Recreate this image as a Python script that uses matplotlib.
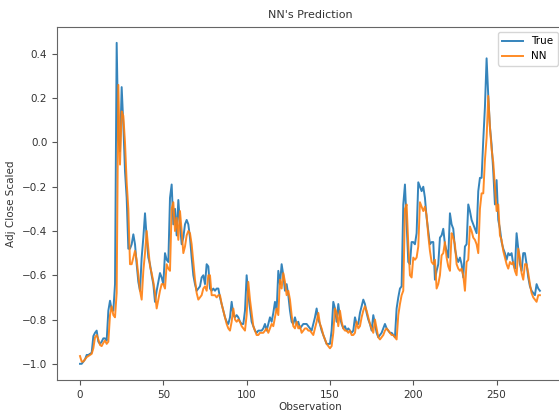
import matplotlib.pyplot as plt

# values
true_vals = [
    -1.00, -1.00, -0.99, -0.98, -0.96, -0.96, -0.955, -0.95, -0.875, -0.86,
    -0.85, -0.90, -0.91, -0.90, -0.885, -0.885, -0.895, -0.76, -0.715, -0.755,
    -0.76, -0.64, 0.45, 0.01, -0.04, 0.25, 0.08, -0.13, -0.25, -0.48,
    -0.48, -0.46, -0.415, -0.46, -0.55, -0.63, -0.67, -0.52, -0.43, -0.32,
    -0.43, -0.52, -0.55, -0.60, -0.64, -0.72, -0.67, -0.63, -0.59, -0.61,
    -0.64, -0.50, -0.53, -0.54, -0.25, -0.19, -0.37, -0.30, -0.42, -0.26,
    -0.37, -0.46, -0.43, -0.37, -0.35, -0.37, -0.43, -0.52, -0.60, -0.64,
    -0.67, -0.66, -0.65, -0.61, -0.60, -0.64, -0.55, -0.56, -0.66, -0.67,
    -0.66, -0.67, -0.66, -0.66, -0.70, -0.73, -0.76, -0.79, -0.81, -0.82,
    -0.79, -0.72, -0.78, -0.79, -0.78, -0.79, -0.81, -0.82, -0.82, -0.76,
    -0.60, -0.69, -0.75, -0.81, -0.83, -0.85, -0.86, -0.85, -0.85, -0.85,
    -0.84, -0.82, -0.85, -0.82, -0.79, -0.81, -0.77, -0.72, -0.76, -0.58,
    -0.64, -0.55, -0.60, -0.67, -0.64, -0.69, -0.76, -0.81, -0.82, -0.79,
    -0.82, -0.81, -0.84, -0.83, -0.82, -0.82, -0.82, -0.83, -0.84, -0.85,
    -0.82, -0.79, -0.75, -0.80, -0.82, -0.85, -0.87, -0.89, -0.91, -0.91,
    -0.91, -0.85, -0.72, -0.75, -0.81, -0.73, -0.79, -0.82, -0.84, -0.83,
    -0.85, -0.84, -0.85, -0.86, -0.85, -0.79, -0.82, -0.82, -0.77, -0.74,
    -0.71, -0.73, -0.77, -0.80, -0.82, -0.85, -0.78, -0.82, -0.86, -0.88,
    -0.87, -0.86, -0.84, -0.82, -0.84, -0.85, -0.86, -0.86, -0.87, -0.88,
    -0.75, -0.70, -0.66, -0.65, -0.28, -0.19, -0.37, -0.54, -0.55, -0.45,
    -0.45, -0.46, -0.41, -0.18, -0.20, -0.22, -0.20, -0.25, -0.34, -0.40,
    -0.46, -0.45, -0.45, -0.62, -0.58, -0.55, -0.43, -0.42, -0.39, -0.46,
    -0.49, -0.52, -0.32, -0.37, -0.39, -0.48, -0.52, -0.54, -0.52, -0.55,
    -0.61, -0.47, -0.46, -0.28, -0.31, -0.35, -0.37, -0.39, -0.41, -0.22,
    -0.16, -0.16, 0.01, 0.16, 0.38, 0.21, 0.07, -0.01, -0.13, -0.28,
    -0.17, -0.35, -0.39, -0.45, -0.48, -0.50, -0.53, -0.50, -0.51, -0.50,
    -0.55, -0.57, -0.41, -0.48, -0.55, -0.58, -0.50, -0.50, -0.55, -0.61,
    -0.65, -0.67, -0.68, -0.69, -0.64, -0.66, -0.67,
]

nn_vals = [
    -0.965, -0.99, -0.99, -0.98, -0.97, -0.965, -0.96, -0.955, -0.93, -0.88,
    -0.87, -0.89, -0.915, -0.92, -0.905, -0.895, -0.91, -0.90, -0.78, -0.74,
    -0.78, -0.79, -0.68, 0.26, -0.10, 0.14, 0.12, 0.00, -0.18, -0.30,
    -0.55, -0.55, -0.52, -0.49, -0.53, -0.60, -0.67, -0.71, -0.58, -0.50,
    -0.40, -0.48, -0.56, -0.59, -0.63, -0.68, -0.75, -0.71, -0.67, -0.64,
    -0.64, -0.66, -0.55, -0.57, -0.58, -0.30, -0.27, -0.40, -0.34, -0.44,
    -0.31, -0.40, -0.50, -0.47, -0.42, -0.40, -0.41, -0.46, -0.54, -0.62,
    -0.68, -0.71, -0.70, -0.69, -0.66, -0.65, -0.67, -0.60, -0.60, -0.69,
    -0.69, -0.69, -0.70, -0.69, -0.69, -0.73, -0.76, -0.79, -0.82, -0.84,
    -0.85, -0.81, -0.75, -0.80, -0.81, -0.80, -0.81, -0.83, -0.84, -0.85,
    -0.78, -0.63, -0.71, -0.77, -0.83, -0.85, -0.87, -0.87, -0.86, -0.86,
    -0.86, -0.85, -0.84, -0.86, -0.84, -0.82, -0.83, -0.79, -0.75, -0.78,
    -0.62, -0.66, -0.59, -0.63, -0.69, -0.67, -0.71, -0.78, -0.83, -0.84,
    -0.81, -0.84, -0.83, -0.86, -0.85, -0.84, -0.84, -0.85, -0.85, -0.86,
    -0.87, -0.84, -0.81, -0.77, -0.82, -0.84, -0.87, -0.89, -0.91, -0.92,
    -0.93, -0.92, -0.86, -0.75, -0.77, -0.83, -0.76, -0.81, -0.84, -0.85,
    -0.85, -0.86, -0.85, -0.87, -0.87, -0.86, -0.81, -0.84, -0.83, -0.79,
    -0.76, -0.74, -0.76, -0.79, -0.82, -0.84, -0.86, -0.80, -0.84, -0.88,
    -0.89, -0.88, -0.87, -0.85, -0.84, -0.85, -0.86, -0.87, -0.87, -0.88,
    -0.89, -0.78, -0.73, -0.69, -0.67, -0.30, -0.28, -0.46, -0.60, -0.61,
    -0.52, -0.53, -0.52, -0.47, -0.27, -0.29, -0.31, -0.29, -0.33, -0.42,
    -0.49, -0.54, -0.55, -0.53, -0.66, -0.64, -0.60, -0.51, -0.50, -0.45,
    -0.52, -0.56, -0.58, -0.41, -0.43, -0.46, -0.55, -0.57, -0.58, -0.57,
    -0.60, -0.67, -0.54, -0.53, -0.38, -0.40, -0.43, -0.44, -0.46, -0.50,
    -0.30, -0.23, -0.23, -0.08, 0.02, 0.21, 0.07, -0.03, -0.09, -0.20,
    -0.31, -0.28, -0.42, -0.44, -0.49, -0.52, -0.55, -0.57, -0.54, -0.55,
    -0.54, -0.58, -0.60, -0.48, -0.52, -0.59, -0.62, -0.55, -0.55, -0.59,
    -0.64, -0.68, -0.70, -0.71, -0.72, -0.69, -0.69,
]

fig = plt.figure(figsize=(5.59, 4.12), dpi=100)
ax = fig.add_axes([0.102, 0.078, 0.905, 0.857])

ax.plot(true_vals, label='True', lw=1.4, alpha=0.9)
ax.plot(nn_vals, label='NN', lw=1.4, alpha=0.9)

ax.set_title("NN's Prediction", fontsize=8, color='#333333')
ax.set_xlabel('Observation', fontsize=7.5, color='#333333', labelpad=2)
ax.set_ylabel('Adj Close Scaled', fontsize=7.5, color='#333333')
ax.tick_params(labelsize=7.5, labelcolor='#333333', color='#555555')
for s in ax.spines.values():
    s.set_color('#666666')
ax.legend(loc='upper right', fontsize=7.5)

fig.savefig('out.png', dpi=100)
